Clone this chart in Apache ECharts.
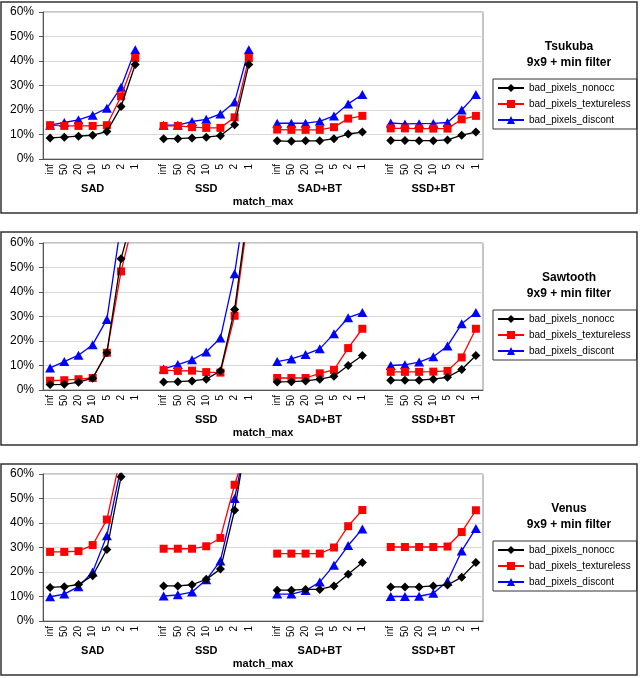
<!DOCTYPE html>
<html><head><meta charset="utf-8">
<script src="https://cdn.jsdelivr.net/npm/echarts@6/dist/echarts.min.js"></script>
<style>html,body{margin:0;padding:0;background:#fff}#c{width:642px;height:678px}</style>
</head><body><div id="c"></div>
<script>
const ticks = ['inf','50','20','10','5','2','1'];
const groups = ['SAD','SSD','SAD+BT','SSD+BT'];
const seriesNames = ['bad_pixels_nonocc','bad_pixels_textureless','bad_pixels_discont'];
const panelTitles = ['Tsukuba\n9x9 + min filter','Sawtooth\n9x9 + min filter','Venus\n9x9 + min filter'];
const yTicks = [0,10,20,30,40,50,60];

// Tsukuba (percent), groups SAD | SSD | SAD+BT | SSD+BT
const tsukubaNonocc = [8.6,8.9,9.3,9.7,11.2,21.4,38.6, 8.3,8.3,8.6,8.9,9.5,14,38.6, 7.4,7.2,7.4,7.4,8.3,10.2,11, 7.6,7.6,7.5,7.5,7.8,9.7,11];
const tsukubaTextureless = [13.8,13.5,13.5,13.5,13.8,25.6,41.2, 13.5,13.5,13,12.7,12.7,17,41.2, 12,11.9,11.9,11.9,13,16.5,17.6, 12.5,12.5,12.4,12.4,12.4,16.2,17.6];
const tsukubaDiscont = [13.8,14.9,16,17.9,20.7,29.3,44.6, 13.8,13.8,15.3,16.2,18.4,23.3,44.6, 14.6,14.6,14.6,15.4,17.6,22.5,26.3, 14.7,14.3,14.4,14.5,14.9,20,26.3];

// Sawtooth
const sawtoothNonocc = [2.2,2.3,3.2,4.8,15.2,53.6,75, 3.3,3.4,3.7,4.4,7.8,32.9,76, 3.3,3.4,3.7,4.4,5.6,10,14.1, 4,4,4,4.4,5.2,8.4,14.1];
const sawtoothTextureless = [3.8,4,4.4,4.9,15.2,48.4,72, 8.1,7.8,7.9,7.3,7.1,30.3,73, 4.9,4.9,4.9,6.8,8.2,17.1,25, 7.4,7.4,7.4,7.5,7.8,13.3,25];
const sawtoothDiscont = [9,11.6,14.2,18.5,28.8,68,85, 8.6,10.4,12.3,15.5,21.2,47.5,86, 11.6,12.7,14.5,16.8,23,29.5,31.6, 10,10.3,11.4,13.6,18,27,31.6];

// Venus
const venusNonocc = [13.7,14,14.9,18.5,29.2,58.9,80, 14.3,14.3,14.8,17,21.2,45.2,80, 12.6,12.6,12.9,12.9,14.3,19.1,23.9, 13.9,13.9,13.9,14.3,14.7,17.9,23.9];
const venusTextureless = [28.2,28.2,28.5,31,41.4,68,85, 29.5,29.5,29.5,30.5,33.9,55.6,74, 27.5,27.5,27.5,27.5,30,38.7,45.3, 30.2,30.2,30.2,30.2,30.4,36.3,45.2];
const venusDiscont = [9.9,11,14,20,34.8,63,82, 10.2,10.7,11.8,16.8,24.5,50,79, 11,11,12.4,15.9,22.8,30.8,37.6, 10,10,10.1,11.3,16.2,28.6,37.8];

const panels = [
  [tsukubaNonocc, tsukubaTextureless, tsukubaDiscont],
  [sawtoothNonocc, sawtoothTextureless, sawtoothDiscont],
  [venusNonocc, venusTextureless, venusDiscont]
];

// build category list with an empty slot between groups
const cats = [], groupCats = [];
groups.forEach((g, gi) => {
  ticks.forEach((t, ti) => { cats.push(t); groupCats.push(ti === 3 ? g : ''); });
  if (gi < groups.length - 1) { cats.push(' '); groupCats.push(''); }
});
function spread(vals) {
  const out = [];
  groups.forEach((g, gi) => {
    for (let i = 0; i < ticks.length; i++) out.push(vals[gi * ticks.length + i]);
    if (gi < groups.length - 1) out.push(null);
  });
  return out;
}

const colors = ['#000000', '#ff0000', '#0000ff'];
const symbols = ['diamond', 'rect', 'triangle'];
const symSizes = [[9,9], [8,8], [10,9]];

const gridTops = [12, 243, 474];
const gridH = 147;
const boxes = [[1, 2, 636, 211], [1, 232, 636, 213], [1, 464, 636, 211]];
const FF = 'Liberation Sans, Arial, sans-serif';

const option = {
  animation: false,
  backgroundColor: '#fff',
  textStyle: { fontFamily: FF },
  grid: [], xAxis: [], yAxis: [], series: [], legend: [], title: [],
  graphic: boxes.map(b => ({
    type: 'rect', shape: { x: b[0], y: b[1], width: b[2], height: b[3] },
    style: { fill: 'none', stroke: '#333', lineWidth: 1.5 }, silent: true, z: 100
  }))
};

panels.forEach((pd, p) => {
  const top = gridTops[p];
  option.grid.push({ left: 43, top: top, width: 440, height: gridH, show: true, borderColor: '#8c8c8c', borderWidth: 1, backgroundColor: '#fff' });
  option.xAxis.push({
    type: 'category', gridIndex: p, data: cats, position: 'bottom',
    axisLine: { show: true, lineStyle: { color: '#555', width: 1 } },
    axisTick: { show: false },
    axisLabel: { rotate: 90, interval: 0, fontSize: 10, color: '#000', margin: 5, fontFamily: FF },
    splitLine: { show: false }
  });
  option.xAxis.push({
    type: 'category', gridIndex: p, data: groupCats, position: 'bottom',
    axisLine: { show: false }, axisTick: { show: false },
    axisLabel: { interval: 0, fontSize: 11, fontWeight: 'bold', color: '#000', margin: 24, fontFamily: FF },
    splitLine: { show: false },
    name: 'match_max', nameLocation: 'middle', nameGap: 37,
    nameTextStyle: { fontSize: 11, fontWeight: 'bold', color: '#000', fontFamily: FF }
  });
  option.yAxis.push({
    type: 'value', gridIndex: p, min: yTicks[0], max: yTicks[yTicks.length - 1], interval: 10,
    axisLine: { show: true, lineStyle: { color: '#555', width: 1 } },
    axisTick: { show: true, length: 4, lineStyle: { color: '#555' } },
    axisLabel: { formatter: '{value}%', fontSize: 12, color: '#000', margin: 9, fontFamily: FF },
    splitLine: { show: true, lineStyle: { color: '#d9d9d9', width: 1 } }
  });
  pd.forEach((vals, s) => {
    option.series.push({
      type: 'line', name: seriesNames[s], xAxisIndex: p * 2, yAxisIndex: p,
      data: spread(vals), connectNulls: false, clip: true,
      symbol: symbols[s], symbolSize: symSizes[s], showAllSymbol: true,
      itemStyle: { color: colors[s] },
      lineStyle: { color: colors[s], width: 1.3 },
      z: 2 + (2 - s)
    });
  });
  option.title.push({
    text: panelTitles[p], left: 569, top: top + 27, textAlign: 'center', padding: 0,
    textStyle: { fontSize: 12, fontWeight: 'bold', color: '#000', lineHeight: 16, fontFamily: FF }
  });
  option.legend.push({
    data: seriesNames, orient: 'vertical', left: 493, top: top + 67,
    borderColor: '#333', borderWidth: 1, padding: [3, 6, 3, 4],
    itemWidth: 26, itemHeight: 10, itemGap: 4,
    textStyle: { fontSize: 10, color: '#000', lineHeight: 12, fontFamily: FF },
    selectedMode: false
  });
});

const chart = echarts.init(document.getElementById('c'), null, { renderer: 'canvas' });
chart.setOption(option);
</script></body></html>
